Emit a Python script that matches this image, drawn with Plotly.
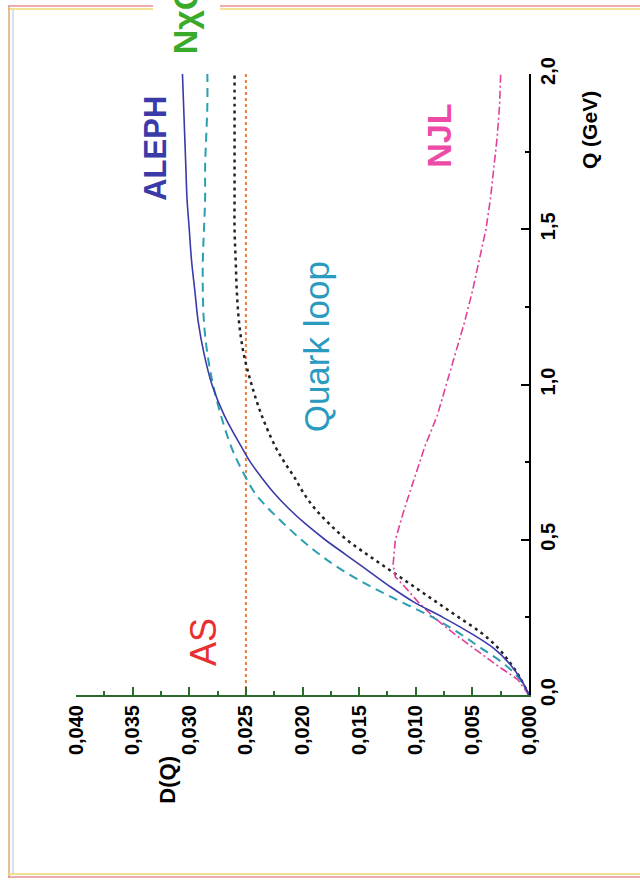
import plotly.graph_objects as go

# Q values (GeV) shared by curves
Q = [0.0, 0.05, 0.1, 0.15, 0.2, 0.25, 0.3, 0.35, 0.4, 0.45, 0.5, 0.55, 0.6, 0.65,
     0.7, 0.75, 0.8, 0.9, 1.0, 1.1, 1.2, 1.3, 1.4, 1.5, 1.6, 1.7, 1.8, 1.9, 2.0]

aleph = [0.0, 0.0007, 0.0017, 0.0031, 0.0052, 0.0076, 0.0102, 0.0123, 0.0142, 0.0161,
         0.0180, 0.0197, 0.0212, 0.0225, 0.0236, 0.0246, 0.0254, 0.0269, 0.0280, 0.0287,
         0.0292, 0.0295, 0.0298, 0.0300, 0.0302, 0.0303, 0.0304, 0.0305, 0.0306]

quark_loop = [0.0, 0.0008, 0.0022, 0.0042, 0.0062, 0.0085, 0.0113, 0.0140, 0.0164, 0.0184,
              0.0201, 0.0216, 0.0230, 0.0242, 0.0250, 0.0257, 0.0263, 0.0272, 0.0279, 0.0284,
              0.0287, 0.0288, 0.0288, 0.0287, 0.0286, 0.0286, 0.0285, 0.0284, 0.0284]

nxqm = [0.0, 0.0007, 0.0016, 0.0027, 0.0042, 0.0062, 0.0082, 0.0102, 0.0122, 0.0142,
        0.0161, 0.0176, 0.0189, 0.0199, 0.0207, 0.0216, 0.0224, 0.0236, 0.0245, 0.0252,
        0.0256, 0.0258, 0.0259, 0.0260, 0.0260, 0.0260, 0.0260, 0.0260, 0.0260]

Q_njl = [0.0, 0.05, 0.1, 0.15, 0.2, 0.25, 0.3, 0.35, 0.38, 0.42, 0.5, 0.6, 0.7, 0.8, 0.9,
         1.0, 1.1, 1.2, 1.3, 1.4, 1.5, 1.6, 1.7, 1.8, 1.9, 2.0]
njl = [0.0, 0.0010, 0.0030, 0.0049, 0.0067, 0.0084, 0.0098, 0.0110, 0.0118, 0.0120,
       0.0118, 0.0110, 0.0101, 0.0092, 0.0081, 0.0073, 0.0065, 0.0057, 0.0050, 0.0044,
       0.0038, 0.0034, 0.0031, 0.0028, 0.0026, 0.0025]

Q_as = [0.0, 2.0]
as_val = [0.025, 0.025]

d_ticks = [0.0, 0.005, 0.01, 0.015, 0.02, 0.025, 0.03, 0.035, 0.04]
q_ticks = [0.0, 0.5, 1.0, 1.5, 2.0]

FONT = "Liberation Sans"

fig = go.Figure()
fig.add_trace(go.Scatter(x=as_val, y=Q_as, mode="lines",
                         line=dict(color="#f07a3a", width=2, dash="dot")))
fig.add_trace(go.Scatter(x=nxqm, y=Q, mode="lines", line_shape="spline",
                         line=dict(color="#222222", width=2.5, dash="3px,4px")))
fig.add_trace(go.Scatter(x=quark_loop, y=Q, mode="lines", line_shape="spline",
                         line=dict(color="#2a9fb0", width=2, dash="9px,6px")))
fig.add_trace(go.Scatter(x=njl, y=Q_njl, mode="lines",
                         line=dict(color="#e0409a", width=1.6, dash="8px,3px,2px,3px")))
fig.add_trace(go.Scatter(x=aleph, y=Q, mode="lines", line_shape="spline",
                         line=dict(color="#3a3aa8", width=1.6)))

fig.update_layout(
    width=640, height=886,
    margin=dict(l=76, r=111, t=74, b=191),
    paper_bgcolor="white", plot_bgcolor="white",
    showlegend=False,
    separators=", ",
    font=dict(family=FONT, color="black"),
)
fig.update_xaxes(
    range=[0.040, 0.0], tickvals=d_ticks, tickformat=".3f",
    tickangle=-90, ticks="inside", ticklen=8, tickwidth=1.5, tickcolor="#2a6a2a",
    minor=dict(dtick=0.0025, ticks="inside", ticklen=4, tickcolor="#2a6a2a", tickwidth=1.5),
    showline=True, linecolor="#2a6a2a", linewidth=2, showgrid=False, zeroline=False,
    tickfont=dict(family=FONT, size=20, color="black", weight="bold"),
)
fig.update_yaxes(
    range=[0.0, 2.0], tickvals=q_ticks, tickformat=".1f", side="right",
    tickangle=-90, ticks="inside", ticklen=8, tickwidth=1.5, tickcolor="black",
    minor=dict(dtick=0.25, ticks="inside", ticklen=4, tickcolor="black", tickwidth=1.5),
    showline=True, linecolor="black", linewidth=2, showgrid=False, zeroline=False,
    tickfont=dict(family=FONT, size=20, color="black", weight="bold"),
)

def label(text, x, y, color, size, bold=False, xref="x", yref="y", yanchor="middle"):
    fig.add_annotation(text=text, x=x, y=y, xref=xref, yref=yref, showarrow=False,
                       textangle=-90, xanchor="center", yanchor=yanchor,
                       font=dict(family=FONT, size=size, color=color,
                                 weight="bold" if bold else "normal"))

label("ALEPH", 0.0330, 1.76, "#3a3aa8", 31, bold=True)
label("NJL", 0.0079, 1.80, "#ee4aa8", 34, bold=True)
label("Quark loop", 0.0188, 1.12, "#2a9bbf", 35)
label("AS", 0.0288, 0.17, "#e83030", 36)
label("NχQM", 0.0303, 1.029, "#3aaa2a", 34, bold=True, yref="paper", yanchor="bottom")
label("D(Q)", 0.200, -0.137, "black", 22, bold=True, xref="paper", yref="paper")
label("Q (GeV)", 1.135, 0.91, "black", 21, bold=True, xref="paper", yref="paper")

# scanned page border
def px(xp):
    return (xp - 76) / 453.0

def py(yp):
    return (695 - yp) / 621.0

border = [
    (8, 6, 153, 6, "#e89090"), (220, 6, 640, 6, "#e89090"),
    (8, 9, 153, 9, "#f0d870"), (220, 9, 640, 9, "#f0d870"),
    (9, 6, 9, 878, "#e0a878"), (13, 10, 13, 874, "#c8d8e8"),
    (8, 877, 640, 877, "#e89090"), (8, 874, 640, 874, "#f0d870"),
]
for x0, y0, x1, y1, c in border:
    fig.add_shape(type="line", xref="paper", yref="paper",
                  x0=px(x0), y0=py(y0), x1=px(x1), y1=py(y1),
                  line=dict(color=c, width=1.5))

fig.write_html("out.html")
